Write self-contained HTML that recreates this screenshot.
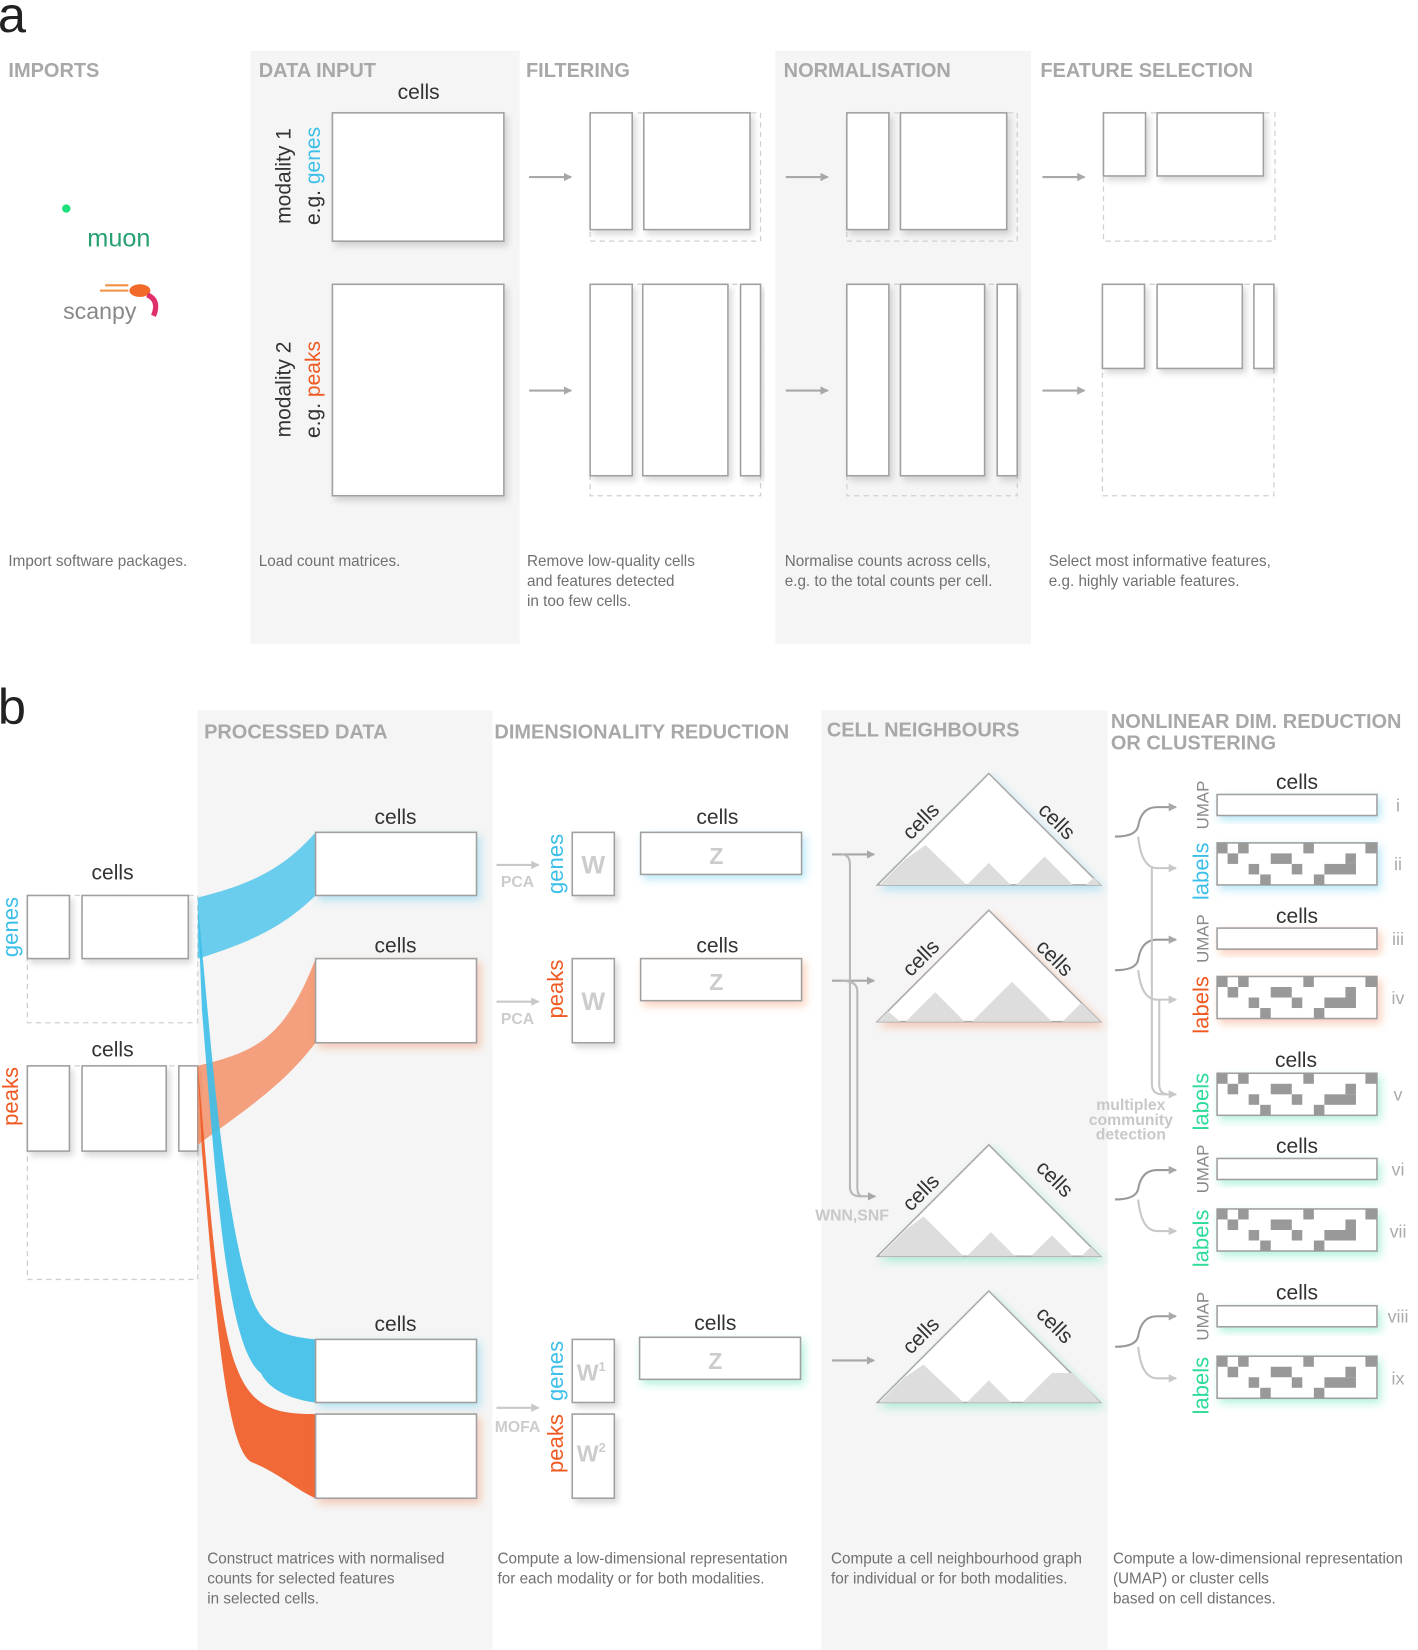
<!DOCTYPE html>
<html><head><meta charset="utf-8"><style>
html,body{margin:0;padding:0;background:#fff;}
svg{display:block;font-family:"Liberation Sans",sans-serif;}
.h{font-weight:bold;fill:#a8a8a8;font-size:19px;}
.cap{fill:#707070;font-size:14.5px;}
.c{fill:#333;font-size:20px;text-anchor:middle;}
.m{fill:#fff;stroke:#a0a0a0;stroke-width:1.5;}
.d{fill:none;stroke:#d0d0d0;stroke-width:1.2;stroke-dasharray:5 4;}
.ar{stroke:#a8a8a8;stroke-width:2;fill:none;marker-end:url(#ah);}
.ar2{stroke:#c8c8c8;stroke-width:2;fill:none;marker-end:url(#ah2);}
.blue{fill:#3cbfe9;} .orng{fill:#f05a22;} .grn{fill:#2fdc9a;}
.rl{font-size:21px;}
.um{fill:#8a8a8a;font-size:16px;}
.rn{fill:#aaa;font-size:17px;}
</style></head><body>
<svg width="1418" height="1650" viewBox="0 0 1348 1568" xmlns="http://www.w3.org/2000/svg">
<defs>
<marker id="ah" markerWidth="8" markerHeight="8" refX="7" refY="4" orient="auto" markerUnits="userSpaceOnUse"><path d="M0,0 L8,4 L0,8 Z" fill="#a8a8a8"/></marker>
<marker id="ah2" markerWidth="8" markerHeight="8" refX="7" refY="4" orient="auto" markerUnits="userSpaceOnUse"><path d="M0,0 L8,4 L0,8 Z" fill="#c8c8c8"/></marker>
<filter id="sh" x="-10%" y="-10%" width="130%" height="140%"><feDropShadow dx="3" dy="4" stdDeviation="3" flood-color="#000" flood-opacity="0.15"/></filter>
<filter id="shb" x="-10%" y="-20%" width="130%" height="160%"><feDropShadow dx="3" dy="4" stdDeviation="4" flood-color="#3cbfe9" flood-opacity="0.35"/></filter>
<filter id="sho" x="-10%" y="-20%" width="130%" height="160%"><feDropShadow dx="3" dy="4" stdDeviation="4" flood-color="#f05a22" flood-opacity="0.3"/></filter>
<filter id="shg" x="-10%" y="-20%" width="130%" height="160%"><feDropShadow dx="3" dy="4" stdDeviation="4" flood-color="#2fdc9a" flood-opacity="0.35"/></filter>
<g id="pat">
<rect x="0" y="0" width="152" height="40" fill="#fff" stroke="#a0a0a0" stroke-width="1.5"/>
<g fill="#999">
<rect x="0" y="0" width="10" height="10"/><rect x="20" y="0" width="10" height="10"/><rect x="82" y="0" width="10" height="10"/><rect x="141" y="0" width="11" height="10"/>
<rect x="10" y="10" width="10" height="10"/><rect x="51" y="10" width="20" height="10"/><rect x="122" y="10" width="10" height="10"/>
<rect x="30" y="20" width="10" height="10"/><rect x="71" y="20" width="10" height="10"/><rect x="102" y="20" width="30" height="10"/>
<rect x="41" y="30" width="10" height="10"/><rect x="92" y="30" width="10" height="10"/>
</g>
</g>
</defs>

<!-- ===== PART A ===== -->
<text x="-2" y="30" font-size="48" fill="#222">a</text>
<rect x="238" y="48" width="256" height="564" fill="#f5f5f5"/>
<rect x="737" y="48" width="243" height="564" fill="#f5f5f5"/>
<text class="h" x="8" y="73">IMPORTS</text>
<text class="h" x="246" y="73">DATA INPUT</text>
<text class="h" x="500" y="73">FILTERING</text>
<text class="h" x="745" y="73">NORMALISATION</text>
<text class="h" x="989" y="73">FEATURE SELECTION</text>

<circle cx="63" cy="198" r="4" fill="#1ee07a"/>
<text x="83" y="234" font-size="24" fill="#27a070">muon</text>
<text x="60" y="303" font-size="22" fill="#888">scanpy</text>
<ellipse cx="133" cy="276" rx="10" ry="6" fill="#f26a2a"/>
<path d="M140,280 Q152,285 146,300" stroke="#e0306a" stroke-width="5" fill="none"/>
<line x1="95" y1="276" x2="122" y2="276" stroke="#f29040" stroke-width="2"/>
<line x1="100" y1="271" x2="122" y2="271" stroke="#f29040" stroke-width="2"/>

<text class="c" x="398" y="94">cells</text>
<rect class="m" x="316" y="107" width="163" height="122" filter="url(#sh)"/>
<rect class="m" x="316" y="270" width="163" height="201" filter="url(#sh)"/>
<text transform="translate(276,167) rotate(-90)" font-size="20" fill="#333" text-anchor="middle">modality 1</text>
<text transform="translate(304,167) rotate(-90)" font-size="20" fill="#333" text-anchor="middle">e.g. <tspan fill="#3cbfe9">genes</tspan></text>
<text transform="translate(276,370) rotate(-90)" font-size="20" fill="#333" text-anchor="middle">modality 2</text>
<text transform="translate(304,370) rotate(-90)" font-size="20" fill="#333" text-anchor="middle">e.g. <tspan fill="#f05a22">peaks</tspan></text>

<!-- filtering -->
<line class="ar" x1="503" y1="168" x2="543" y2="168"/>
<line class="ar" x1="503" y1="371" x2="543" y2="371"/>
<rect class="d" x="561" y="107" width="162" height="122"/>
<rect class="m" x="561" y="107" width="40" height="111" filter="url(#sh)"/>
<rect class="m" x="612" y="107" width="101" height="111" filter="url(#sh)"/>
<rect class="d" x="561" y="270" width="162" height="201"/>
<rect class="m" x="561" y="270" width="40" height="182" filter="url(#sh)"/>
<rect class="m" x="611" y="270" width="81" height="182" filter="url(#sh)"/>
<rect class="m" x="704" y="270" width="19" height="182" filter="url(#sh)"/>

<!-- normalisation -->
<line class="ar" x1="747" y1="168" x2="787" y2="168"/>
<line class="ar" x1="747" y1="371" x2="787" y2="371"/>
<rect class="d" x="805" y="107" width="162" height="122"/>
<rect class="m" x="805" y="107" width="40" height="111" filter="url(#sh)"/>
<rect class="m" x="856" y="107" width="101" height="111" filter="url(#sh)"/>
<rect class="d" x="805" y="270" width="162" height="201"/>
<rect class="m" x="805" y="270" width="40" height="182" filter="url(#sh)"/>
<rect class="m" x="856" y="270" width="80" height="182" filter="url(#sh)"/>
<rect class="m" x="948" y="270" width="19" height="182" filter="url(#sh)"/>

<!-- feature selection -->
<line class="ar" x1="991" y1="168" x2="1031" y2="168"/>
<line class="ar" x1="991" y1="371" x2="1031" y2="371"/>
<rect class="d" x="1049" y="107" width="163" height="122"/>
<rect class="m" x="1049" y="107" width="40" height="60" filter="url(#sh)"/>
<rect class="m" x="1100" y="107" width="101" height="60" filter="url(#sh)"/>
<rect class="d" x="1048" y="270" width="163" height="201"/>
<rect class="m" x="1048" y="270" width="40" height="80" filter="url(#sh)"/>
<rect class="m" x="1100" y="270" width="81" height="80" filter="url(#sh)"/>
<rect class="m" x="1192" y="270" width="19" height="80" filter="url(#sh)"/>

<text class="cap" x="8" y="538">Import software packages.</text>
<text class="cap" x="246" y="538">Load count matrices.</text>
<text class="cap" x="501" y="538">Remove low-quality cells</text>
<text class="cap" x="501" y="557">and features detected</text>
<text class="cap" x="501" y="576">in too few cells.</text>
<text class="cap" x="746" y="538">Normalise counts across cells,</text>
<text class="cap" x="746" y="557">e.g. to the total counts per cell.</text>
<text class="cap" x="997" y="538">Select most informative features,</text>
<text class="cap" x="997" y="557">e.g. highly variable features.</text>

<!-- ===== PART B ===== -->
<text x="-2" y="688" font-size="48" fill="#222">b</text>
<rect x="188" y="675" width="280" height="893" fill="#f5f5f5"/>
<rect x="781" y="675" width="272" height="893" fill="#f5f5f5"/>
<text class="h" x="194" y="702">PROCESSED DATA</text>
<text class="h" x="470" y="702">DIMENSIONALITY REDUCTION</text>
<text class="h" x="786" y="700">CELL NEIGHBOURS</text>
<text class="h" x="1056" y="692">NONLINEAR DIM. REDUCTION</text>
<text class="h" x="1056" y="712">OR CLUSTERING</text>

<!-- left matrices -->
<text class="c" x="107" y="836">cells</text>
<text class="c" x="107" y="1004">cells</text>
<text class="rl blue" transform="translate(17,881) rotate(-90)" text-anchor="middle">genes</text>
<text class="rl orng" transform="translate(17,1042) rotate(-90)" text-anchor="middle">peaks</text>
<rect class="d" x="26" y="851" width="162" height="121"/>
<rect class="m" x="26" y="851" width="40" height="60" filter="url(#sh)"/>
<rect class="m" x="78" y="851" width="101" height="60" filter="url(#sh)"/>
<rect class="d" x="26" y="1013" width="162" height="203"/>
<rect class="m" x="26" y="1013" width="40" height="81" filter="url(#sh)"/>
<rect class="m" x="78" y="1013" width="80" height="81" filter="url(#sh)"/>
<rect class="m" x="170" y="1013" width="18" height="81" filter="url(#sh)"/>

<!-- ribbons -->
<path d="M188,853 C240,840 270,825 300,791 L300,851 C270,880 240,895 188,911 Z" fill="#3cbfe9" opacity="0.75"/>
<path d="M188,1013 C240,1000 270,990 300,911 L300,991 C270,1030 240,1050 188,1088 Z" fill="#f47a4a" opacity="0.7"/>
<path d="M188,860 C200,980 210,1140 238,1230 C250,1265 270,1270 300,1273 L300,1333 C275,1330 255,1320 248,1305 C215,1280 205,1120 192,960 Z" fill="#3cbfe9" opacity="0.9"/>
<path d="M188,1013 C198,1120 205,1250 225,1300 C240,1340 265,1344 300,1344 L300,1424 C280,1415 265,1400 240,1390 C215,1380 205,1250 192,1095 Z" fill="#f05a22" opacity="0.9"/>

<!-- processed -->
<text class="c" x="376" y="783">cells</text>
<text class="c" x="376" y="905">cells</text>
<text class="c" x="376" y="1265">cells</text>
<rect class="m" x="300" y="791" width="153" height="60" filter="url(#shb)"/>
<rect class="m" x="300" y="911" width="153" height="80" filter="url(#sho)"/>
<rect class="m" x="300" y="1273" width="153" height="60" filter="url(#shb)"/>
<rect class="m" x="300" y="1344" width="153" height="80" filter="url(#sho)"/>

<!-- dim reduction -->
<line class="ar2" x1="472" y1="822" x2="512" y2="822"/>
<text x="492" y="843" font-size="15" font-weight="bold" fill="#ccc" text-anchor="middle">PCA</text>
<text class="rl blue" transform="translate(535,821) rotate(-90)" text-anchor="middle">genes</text>
<rect class="m" x="544" y="791" width="40" height="60" filter="url(#sh)"/>
<text x="564" y="830" font-size="24" font-weight="bold" fill="#ccc" text-anchor="middle">W</text>
<text class="c" x="682" y="783">cells</text>
<rect class="m" x="609" y="791" width="153" height="40" filter="url(#shb)"/>
<text x="681" y="821" font-size="22" font-weight="bold" fill="#ccc" text-anchor="middle">Z</text>

<line class="ar2" x1="472" y1="952" x2="512" y2="952"/>
<text x="492" y="973" font-size="15" font-weight="bold" fill="#ccc" text-anchor="middle">PCA</text>
<text class="rl orng" transform="translate(535,940) rotate(-90)" text-anchor="middle">peaks</text>
<rect class="m" x="544" y="911" width="40" height="80" filter="url(#sh)"/>
<text x="564" y="960" font-size="24" font-weight="bold" fill="#ccc" text-anchor="middle">W</text>
<text class="c" x="682" y="905">cells</text>
<rect class="m" x="609" y="911" width="153" height="40" filter="url(#sho)"/>
<text x="681" y="941" font-size="22" font-weight="bold" fill="#ccc" text-anchor="middle">Z</text>

<line class="ar2" x1="472" y1="1338" x2="512" y2="1338"/>
<text x="492" y="1361" font-size="15" font-weight="bold" fill="#ccc" text-anchor="middle">MOFA</text>
<text class="rl blue" transform="translate(535,1303) rotate(-90)" text-anchor="middle">genes</text>
<text class="rl orng" transform="translate(535,1372) rotate(-90)" text-anchor="middle">peaks</text>
<rect class="m" x="544" y="1273" width="40" height="60" filter="url(#sh)"/>
<text x="562" y="1312" font-size="22" font-weight="bold" fill="#ccc" text-anchor="middle">W<tspan font-size="12" dy="-9">1</tspan></text>
<rect class="m" x="544" y="1344" width="40" height="80" filter="url(#sh)"/>
<text x="562" y="1389" font-size="22" font-weight="bold" fill="#ccc" text-anchor="middle">W<tspan font-size="12" dy="-9">2</tspan></text>
<text class="c" x="680" y="1264">cells</text>
<rect class="m" x="608" y="1271" width="153" height="40" filter="url(#shg)"/>
<text x="680" y="1301" font-size="22" font-weight="bold" fill="#ccc" text-anchor="middle">Z</text>

<!-- cell neighbours arrows -->
<line class="ar" x1="791" y1="812" x2="831" y2="812"/>
<line class="ar" x1="791" y1="932" x2="831" y2="932"/>
<path d="M800,812 Q808,812 808,822 L808,1128 Q808,1137 818,1137 L832,1137" stroke="#b8b8b8" stroke-width="2" fill="none" marker-end="url(#ah)"/>
<path d="M800,932 Q815,932 815,942 L815,1128 Q815,1137 820,1137" stroke="#b8b8b8" stroke-width="2" fill="none"/>
<line class="ar" x1="791" y1="1293" x2="831" y2="1293"/>
<text x="810" y="1160" font-size="15" font-weight="bold" fill="#c8c8c8" text-anchor="middle">WNN,SNF</text>

<!-- triangles -->
<g filter="url(#shb)">
<path d="M834,841 L940,735 L1046,841 Z" fill="#fff" stroke="#aaa" stroke-width="1.5"/>
</g>
<g fill="#ddd"><path d="M836,841 L860,817 L880,803 L919,841Z"/><path d="M919,841 L940,820 L961,841Z"/><path d="M966,841 L993,814 L1020,841Z"/><path d="M1032,841 L1040,834 L1046,841Z"/></g>
<text transform="translate(880,785) rotate(-45)" class="c">cells</text>
<text transform="translate(1000,785) rotate(45)" class="c">cells</text>

<g filter="url(#sho)">
<path d="M834,971 L940,865 L1046,971 Z" fill="#fff" stroke="#aaa" stroke-width="1.5"/>
</g>
<g fill="#ddd"><path d="M834,971 L844,961 L856,971Z"/><path d="M861,971 L889,943 L917,971Z"/><path d="M924,971 L962,933 L1000,971Z"/><path d="M1010,971 L1028,953 L1046,971Z"/></g>
<text transform="translate(880,915) rotate(-45)" class="c">cells</text>
<text transform="translate(998,915) rotate(45)" class="c">cells</text>

<g filter="url(#shg)">
<path d="M834,1194 L940,1088 L1046,1194 Z" fill="#fff" stroke="#aaa" stroke-width="1.5"/>
</g>
<g fill="#ddd"><path d="M836,1194 L862,1168 L878,1156 L916,1194Z"/><path d="M919,1194 L942,1171 L965,1194Z"/><path d="M980,1194 L1000,1174 L1020,1194Z"/><path d="M1028,1194 L1037,1185 L1046,1194Z"/></g>
<text transform="translate(880,1138) rotate(-45)" class="c">cells</text>
<text transform="translate(998,1125) rotate(45)" class="c">cells</text>

<g filter="url(#shg)">
<path d="M834,1333 L940,1227 L1046,1333 Z" fill="#fff" stroke="#aaa" stroke-width="1.5"/>
</g>
<g fill="#ddd"><path d="M836,1333 L860,1309 L878,1297 L916,1333Z"/><path d="M919,1333 L940,1312 L961,1333Z"/><path d="M972,1333 L1000,1305 L1020,1305 L1046,1333Z"/></g>
<text transform="translate(880,1274) rotate(-45)" class="c">cells</text>
<text transform="translate(998,1264) rotate(45)" class="c">cells</text>

<!-- brackets nonlinear -->
<g stroke="#999" stroke-width="2" fill="none">
<path d="M1060,795 Q1080,795 1082,785 Q1085,767 1100,767 L1118,767" marker-end="url(#ah)"/>
<path d="M1060,922 Q1080,922 1082,912 Q1085,893 1100,893 L1118,893" marker-end="url(#ah)"/>
<path d="M1060,1140 Q1080,1140 1082,1130 Q1085,1112 1100,1112 L1118,1112" marker-end="url(#ah)"/>
<path d="M1060,1280 Q1080,1280 1082,1270 Q1085,1251 1100,1251 L1118,1251" marker-end="url(#ah)"/>
</g>
<g stroke="#c8c8c8" stroke-width="2" fill="none">
<path d="M1082,795 Q1085,825 1100,825 L1118,825" marker-end="url(#ah2)"/>
<path d="M1082,922 Q1085,950 1100,950 L1118,950" marker-end="url(#ah2)"/>
<path d="M1082,1140 Q1085,1170 1100,1170 L1118,1170" marker-end="url(#ah2)"/>
<path d="M1082,1280 Q1085,1310 1100,1310 L1118,1310" marker-end="url(#ah2)"/>
<path d="M1095,825 L1095,1030 Q1095,1040 1105,1040 L1118,1040" marker-end="url(#ah2)"/>
<path d="M1102,950 L1102,1030 Q1102,1040 1110,1040"/>
</g>
<text x="1075" y="1055" font-size="15" font-weight="bold" fill="#c8c8c8" text-anchor="middle">multiplex</text>
<text x="1075" y="1069" font-size="15" font-weight="bold" fill="#c8c8c8" text-anchor="middle">community</text>
<text x="1075" y="1083" font-size="15" font-weight="bold" fill="#c8c8c8" text-anchor="middle">detection</text>

<!-- nonlinear outputs -->
<text class="c" x="1233" y="750">cells</text>
<text class="um" transform="translate(1149,765) rotate(-90)" text-anchor="middle">UMAP</text>
<rect class="m" x="1157" y="755" width="152" height="20" filter="url(#shb)"/>
<text class="rn" x="1329" y="771" text-anchor="middle">i</text>
<text class="rl blue" transform="translate(1149,828) rotate(-90)" text-anchor="middle">labels</text>
<use href="#pat" x="1157" y="801" filter="url(#shb)"/>
<text class="rn" x="1329" y="827" text-anchor="middle">ii</text>

<text class="c" x="1233" y="877">cells</text>
<text class="um" transform="translate(1149,892) rotate(-90)" text-anchor="middle">UMAP</text>
<rect class="m" x="1157" y="882" width="152" height="20" filter="url(#sho)"/>
<text class="rn" x="1329" y="898" text-anchor="middle">iii</text>
<text class="rl orng" transform="translate(1149,955) rotate(-90)" text-anchor="middle">labels</text>
<use href="#pat" x="1157" y="928" filter="url(#sho)"/>
<text class="rn" x="1329" y="954" text-anchor="middle">iv</text>

<text class="c" x="1232" y="1014">cells</text>
<text class="rl grn" transform="translate(1149,1047) rotate(-90)" text-anchor="middle">labels</text>
<use href="#pat" x="1157" y="1020" filter="url(#shg)"/>
<text class="rn" x="1329" y="1046" text-anchor="middle">v</text>

<text class="c" x="1233" y="1096">cells</text>
<text class="um" transform="translate(1149,1111) rotate(-90)" text-anchor="middle">UMAP</text>
<rect class="m" x="1157" y="1101" width="152" height="20" filter="url(#shg)"/>
<text class="rn" x="1329" y="1117" text-anchor="middle">vi</text>
<text class="rl grn" transform="translate(1149,1177) rotate(-90)" text-anchor="middle">labels</text>
<use href="#pat" x="1157" y="1149" filter="url(#shg)"/>
<text class="rn" x="1329" y="1176" text-anchor="middle">vii</text>

<text class="c" x="1233" y="1235">cells</text>
<text class="um" transform="translate(1149,1251) rotate(-90)" text-anchor="middle">UMAP</text>
<rect class="m" x="1157" y="1241" width="152" height="20" filter="url(#shg)"/>
<text class="rn" x="1329" y="1257" text-anchor="middle">viii</text>
<text class="rl grn" transform="translate(1149,1317) rotate(-90)" text-anchor="middle">labels</text>
<use href="#pat" x="1157" y="1289" filter="url(#shg)"/>
<text class="rn" x="1329" y="1316" text-anchor="middle">ix</text>

<!-- captions b -->
<text class="cap" x="197" y="1486">Construct matrices with normalised</text>
<text class="cap" x="197" y="1505">counts for selected features</text>
<text class="cap" x="197" y="1524">in selected cells.</text>
<text class="cap" x="473" y="1486">Compute a low-dimensional representation</text>
<text class="cap" x="473" y="1505">for each modality or for both modalities.</text>
<text class="cap" x="790" y="1486">Compute a cell neighbourhood graph</text>
<text class="cap" x="790" y="1505">for individual or for both modalities.</text>
<text class="cap" x="1058" y="1486">Compute a low-dimensional representation</text>
<text class="cap" x="1058" y="1505">(UMAP) or cluster cells</text>
<text class="cap" x="1058" y="1524">based on cell distances.</text>
</svg>
</body></html>
